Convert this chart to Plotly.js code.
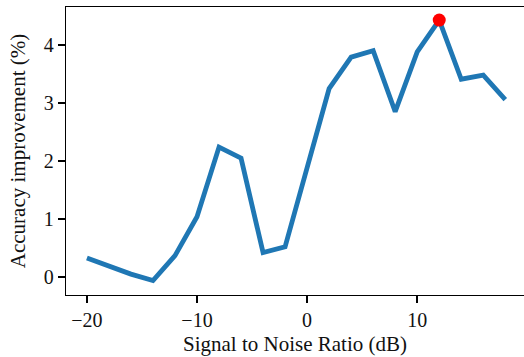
<!DOCTYPE html>
<html><head><meta charset="utf-8">
<script src="https://cdn.plot.ly/plotly-3.0.1.min.js"></script>
<style>html,body{margin:0;padding:0;background:#fff}#c{width:524px;height:357px}</style>
</head><body><div id="c"></div>
<script>
const snr = [-20,-18,-16,-14,-12,-10,-8,-6,-4,-2,0,2,4,6,8,10,12,14,16,18];
const improvement = [0.33,0.18,0.05,-0.06,0.37,1.04,2.24,2.05,0.42,0.52,1.87,3.25,3.79,3.90,2.85,3.88,4.43,3.41,3.48,3.06];
const bestSnr = [12];
const bestImprovement = [4.43];
const font = "'Liberation Serif','DejaVu Serif',serif";
const data = [
  {x: snr, y: improvement, type:'scatter', mode:'lines', line:{color:'#1f77b4', width:4.8}, hoverinfo:'skip'},
  {x: bestSnr, y: bestImprovement, type:'scatter', mode:'markers', marker:{color:'#ff0000', size:13}, hoverinfo:'skip'}
];
const layout = {
  width:524, height:357, showlegend:false,
  margin:{l:66, r:0, t:7, b:62},
  paper_bgcolor:'#fff', plot_bgcolor:'#fff',
  font:{family:font, size:20, color:'#111'},
  xaxis:{range:[-21.9,19.7], tickvals:[-20,-10,0,10], ticktext:['\u221220','\u221210','0','10'],
    ticks:'outside', ticklen:7, tickwidth:2, tickcolor:'#000', showgrid:false, zeroline:false,
    showline:true, linecolor:'#000', linewidth:1.2, mirror:true,
    title:{text:'Signal to Noise Ratio (dB)', font:{family:font, size:21}, standoff:6}},
  yaxis:{range:[-0.31,4.655], tickvals:[0,1,2,3,4],
    ticks:'outside', ticklen:7, tickwidth:2, tickcolor:'#000', showgrid:false, zeroline:false,
    showline:true, linecolor:'#000', linewidth:1.2, mirror:false,
    title:{text:'Accuracy improvement (%)', font:{family:font, size:21}, standoff:12}}
};
Plotly.newPlot('c', data, layout, {displayModeBar:false, staticPlot:true});
</script></body></html>
